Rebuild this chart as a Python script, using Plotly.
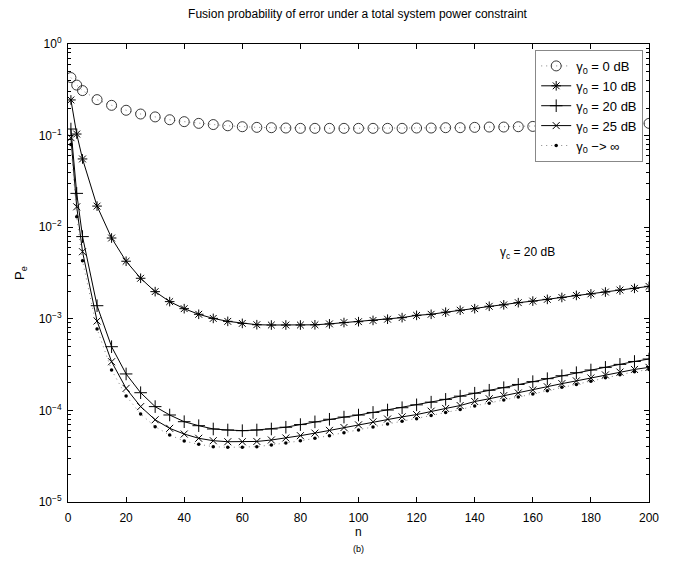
import plotly.graph_objects as go

# Number of sensors n at which each curve is evaluated
n_vals = [1, 3, 5] + list(range(10, 205, 5))

# Fusion probability of error P_e for each sensor SNR gamma_0
pe_0db = [0.43, 0.356, 0.31, 0.247, 0.214, 0.189, 0.172, 0.160, 0.149, 0.142,
          0.136, 0.132, 0.128, 0.125, 0.123, 0.122, 0.121, 0.120, 0.120, 0.120,
          0.120, 0.120, 0.120, 0.120, 0.120, 0.121, 0.121, 0.122, 0.122, 0.123,
          0.124, 0.124, 0.125, 0.126, 0.127, 0.128, 0.129, 0.130, 0.131, 0.133,
          0.134, 0.136]
pe_10db = [0.245, 0.104, 0.0556, 0.0170, 0.00762, 0.00425, 0.00277, 0.00198,
           0.00154, 0.00129, 0.00112, 0.00101, 0.000938, 0.000891, 0.000862,
           0.000855, 0.000855, 0.000855, 0.00086, 0.00088, 0.00091, 0.00093,
           0.00096, 0.00099, 0.00103, 0.00109, 0.00112, 0.00118, 0.00124,
           0.00129, 0.00137, 0.00142, 0.00150, 0.00156, 0.00163, 0.00171,
           0.00180, 0.00187, 0.00196, 0.00206, 0.00215, 0.00226]
pe_20db = [0.118, 0.0234, 0.0079, 0.00139, 4.96e-4, 2.5e-4, 1.56e-4, 1.1e-4,
           8.91e-5, 7.53e-5, 6.81e-5, 6.27e-5, 6.11e-5, 6.01e-5, 6.11e-5,
           6.27e-5, 6.55e-5, 7.0e-5, 7.5e-5, 8.0e-5, 8.45e-5, 8.9e-5, 9.5e-5,
           1.01e-4, 1.07e-4, 1.15e-4, 1.23e-4, 1.32e-4, 1.43e-4, 1.54e-4,
           1.66e-4, 1.77e-4, 1.92e-4, 2.06e-4, 2.22e-4, 2.39e-4, 2.58e-4,
           2.76e-4, 2.95e-4, 3.18e-4, 3.42e-4, 3.64e-4]
pe_25db = [0.095, 0.0167, 0.0054, 9.46e-4, 3.4e-4, 1.74e-4, 1.1e-4, 7.9e-5,
           6.37e-5, 5.52e-5, 4.96e-5, 4.67e-5, 4.55e-5, 4.55e-5, 4.58e-5,
           4.75e-5, 5.0e-5, 5.3e-5, 5.65e-5, 6.05e-5, 6.5e-5, 6.95e-5, 7.5e-5,
           8.05e-5, 8.5e-5, 9.0e-5, 9.8e-5, 1.05e-4, 1.13e-4, 1.25e-4, 1.34e-4,
           1.45e-4, 1.55e-4, 1.67e-4, 1.81e-4, 1.96e-4, 2.1e-4, 2.26e-4,
           2.44e-4, 2.62e-4, 2.8e-4, 2.95e-4]
pe_inf = [0.08, 0.013, 0.0043, 7.76e-4, 2.76e-4, 1.44e-4, 9.14e-5, 6.64e-5,
          5.39e-5, 4.63e-5, 4.26e-5, 4.02e-5, 3.95e-5, 3.95e-5, 4.02e-5,
          4.2e-5, 4.4e-5, 4.65e-5, 4.95e-5, 5.3e-5, 5.7e-5, 6.1e-5, 6.6e-5,
          7.1e-5, 7.6e-5, 8.1e-5, 8.8e-5, 9.5e-5, 1.02e-4, 1.12e-4, 1.2e-4,
          1.3e-4, 1.4e-4, 1.51e-4, 1.64e-4, 1.79e-4, 1.92e-4, 2.08e-4,
          2.27e-4, 2.45e-4, 2.64e-4, 2.8e-4]

series_names = ["γ<sub>0</sub> = 0 dB", "γ<sub>0</sub> = 10 dB",
                "γ<sub>0</sub> = 20 dB", "γ<sub>0</sub> = 25 dB",
                "γ<sub>0</sub> −> ∞"]

x_ticks = [0, 20, 40, 60, 80, 100, 120, 140, 160, 180, 200]
y_ticks = [1e-5, 1e-4, 1e-3, 1e-2, 1e-1, 1]
y_ticktext = ["10<sup>−5</sup>", "10<sup>−4</sup>", "10<sup>−3</sup>",
              "10<sup>−2</sup>", "10<sup>−1</sup>", "10<sup>0</sup>"]

FONT = "Liberation Sans, Arial, Helvetica, sans-serif"
BLACK = "black"
DOT_GRAY = "#666666"

styles = [
    dict(line=dict(color=DOT_GRAY, width=0.8, dash="1px,4px"),
         marker=dict(symbol="circle-open", size=10, color="#222222",
                     line=dict(width=0.9, color="#222222"))),
    dict(line=dict(color=BLACK, width=1),
         marker=dict(symbol="asterisk-open", size=8, color=BLACK,
                     line=dict(width=1, color=BLACK))),
    dict(line=dict(color=BLACK, width=1),
         marker=dict(symbol="cross-thin-open", size=9, color=BLACK,
                     line=dict(width=1, color=BLACK))),
    dict(line=dict(color=BLACK, width=1),
         marker=dict(symbol="x-thin-open", size=7, color=BLACK,
                     line=dict(width=1, color=BLACK))),
    dict(line=dict(color=DOT_GRAY, width=0.8, dash="1px,4px"),
         marker=dict(symbol="circle", size=3.5, color=BLACK)),
]

fig = go.Figure()
for name, ys, st in zip(series_names,
                        [pe_0db, pe_10db, pe_20db, pe_25db, pe_inf], styles):
    fig.add_trace(go.Scatter(x=n_vals, y=ys, mode="lines+markers", name=name,
                             line=st["line"], marker=st["marker"]))

axis_common = dict(
    showline=True, linecolor=BLACK, linewidth=1, mirror="ticks",
    ticks="inside", tickcolor=BLACK, showgrid=False, zeroline=False,
    tickfont=dict(family=FONT, size=12, color=BLACK),
)

fig.update_xaxes(range=[0, 200], tickvals=x_ticks, ticklen=5,
                 ticklabelstandoff=5, **axis_common)
fig.update_yaxes(type="log", range=[-5, 0], tickvals=y_ticks,
                 ticktext=y_ticktext, ticklen=5, ticklabelstandoff=3,
                 minor=dict(ticks="inside", ticklen=3, tickcolor=BLACK,
                            dtick="D1", showgrid=False),
                 **axis_common)

fig.update_layout(
    width=681, height=567,
    margin=dict(l=68, r=32, t=44, b=65),
    paper_bgcolor="white", plot_bgcolor="white",
    font=dict(family=FONT, size=12, color=BLACK),
    title=dict(text="Fusion probability of error under a total system power constraint",
               x=0.525, xanchor="center", y=1 - 14 / 567, yanchor="middle",
               yref="container", font=dict(family=FONT, size=12, color=BLACK)),
    showlegend=True,
    legend=dict(x=0.99, xanchor="right", y=0.987, yanchor="top",
                bgcolor="white", bordercolor="#888888", borderwidth=1,
                itemwidth=30, tracegroupgap=0,
                font=dict(family=FONT, size=13, color=BLACK)),
    annotations=[
        dict(text="γ<sub>c</sub> = 20 dB", x=148, y=-2.28, xref="x", yref="y",
             xanchor="left", yanchor="middle", showarrow=False,
             font=dict(family=FONT, size=12, color=BLACK)),
        dict(text="n", x=0.5, y=0, xref="paper", yref="paper",
             xanchor="center", yanchor="middle", yshift=-30, showarrow=False,
             font=dict(family=FONT, size=12, color=BLACK)),
        dict(text="(b)", x=0.5, y=0, xref="paper", yref="paper",
             xanchor="center", yanchor="middle", yshift=-47, showarrow=False,
             font=dict(family=FONT, size=9, color=BLACK)),
        dict(text="P<sub>e</sub>", x=0, y=0.5, xref="paper", yref="paper",
             xanchor="center", yanchor="middle", xshift=-48, textangle=-90,
             showarrow=False, font=dict(family=FONT, size=13, color=BLACK)),
    ],
)

fig.write_html("out.html")
